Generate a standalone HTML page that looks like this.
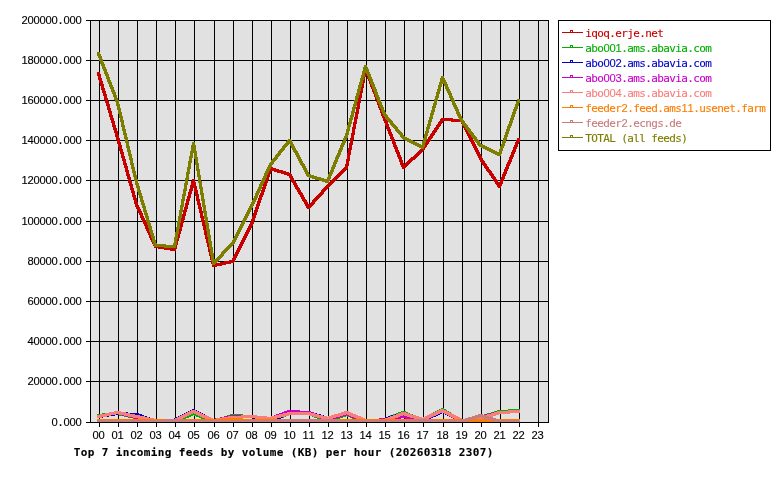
<!DOCTYPE html>
<html lang="en"><head><meta charset="utf-8">
<title>Top 7 incoming feeds by volume (KB) per hour</title>
<style>
html,body{margin:0;padding:0;background:#fff;}
body{width:780px;height:480px;overflow:hidden;}
svg{display:block;}
.s{font-family:"DejaVu Sans Mono","Liberation Mono",monospace;font-size:11px;}
.d{font-family:"Liberation Sans","DejaVu Sans",sans-serif;font-size:11.2px;}
.b{font-family:"DejaVu Sans Mono","Liberation Mono",monospace;font-size:11px;font-weight:bold;}
</style></head><body>
<svg width="780" height="480" viewBox="0 0 780 480">
<rect x="0" y="0" width="780" height="480" fill="#fff"/>
<g shape-rendering="crispEdges">
<rect x="90" y="20" width="459" height="403" fill="rgb(225,225,225)"/>
<path fill="#000" d="M99 20h1v407h-1zM118 20h1v407h-1zM137 20h1v407h-1zM156 20h1v407h-1zM175 20h1v407h-1zM194 20h1v407h-1zM214 20h1v407h-1zM233 20h1v407h-1zM252 20h1v407h-1zM271 20h1v407h-1zM290 20h1v407h-1zM309 20h1v407h-1zM328 20h1v407h-1zM347 20h1v407h-1zM366 20h1v407h-1zM385 20h1v407h-1zM404 20h1v407h-1zM423 20h1v407h-1zM443 20h1v407h-1zM462 20h1v407h-1zM481 20h1v407h-1zM500 20h1v407h-1zM519 20h1v407h-1zM538 20h1v407h-1zM86 20h463v1h-463zM86 60h463v1h-463zM86 100h463v1h-463zM86 140h463v1h-463zM86 180h463v1h-463zM86 221h463v1h-463zM86 261h463v1h-463zM86 301h463v1h-463zM86 341h463v1h-463zM86 381h463v1h-463zM86 422h463v1h-463z"/>
<path fill="rgb(200,0,0)" d="M364 67h3v1h-3zM364 68h3v1h-3zM364 69h4v1h-4zM363 70h5v1h-5zM363 71h6v1h-6zM97 72h3v1h-3zM363 72h6v1h-6zM97 73h3v1h-3zM363 73h6v1h-6zM97 74h4v1h-4zM363 74h7v1h-7zM97 75h4v1h-4zM362 75h8v1h-8zM98 76h3v1h-3zM362 76h4v1h-4zM367 76h3v1h-3zM98 77h3v1h-3zM362 77h3v1h-3zM367 77h4v1h-4zM98 78h4v1h-4zM362 78h3v1h-3zM367 78h4v1h-4zM98 79h4v1h-4zM362 79h3v1h-3zM368 79h4v1h-4zM99 80h3v1h-3zM362 80h3v1h-3zM368 80h4v1h-4zM99 81h4v1h-4zM361 81h4v1h-4zM369 81h3v1h-3zM99 82h4v1h-4zM361 82h4v1h-4zM369 82h4v1h-4zM100 83h3v1h-3zM361 83h3v1h-3zM369 83h4v1h-4zM100 84h4v1h-4zM361 84h3v1h-3zM370 84h3v1h-3zM100 85h4v1h-4zM361 85h3v1h-3zM370 85h4v1h-4zM101 86h3v1h-3zM360 86h4v1h-4zM370 86h4v1h-4zM101 87h3v1h-3zM360 87h4v1h-4zM371 87h4v1h-4zM101 88h4v1h-4zM360 88h3v1h-3zM371 88h4v1h-4zM101 89h4v1h-4zM360 89h3v1h-3zM372 89h3v1h-3zM102 90h3v1h-3zM360 90h3v1h-3zM372 90h4v1h-4zM102 91h4v1h-4zM359 91h4v1h-4zM372 91h4v1h-4zM102 92h4v1h-4zM359 92h4v1h-4zM373 92h4v1h-4zM103 93h3v1h-3zM359 93h3v1h-3zM373 93h4v1h-4zM103 94h4v1h-4zM359 94h3v1h-3zM374 94h3v1h-3zM103 95h4v1h-4zM359 95h3v1h-3zM374 95h4v1h-4zM104 96h3v1h-3zM358 96h4v1h-4zM374 96h4v1h-4zM104 97h3v1h-3zM358 97h4v1h-4zM375 97h3v1h-3zM104 98h4v1h-4zM358 98h3v1h-3zM375 98h4v1h-4zM104 99h4v1h-4zM358 99h3v1h-3zM375 99h4v1h-4zM105 100h3v1h-3zM358 100h3v1h-3zM376 100h4v1h-4zM105 101h4v1h-4zM357 101h4v1h-4zM376 101h4v1h-4zM105 102h4v1h-4zM357 102h4v1h-4zM377 102h3v1h-3zM106 103h3v1h-3zM357 103h3v1h-3zM377 103h4v1h-4zM106 104h4v1h-4zM357 104h3v1h-3zM377 104h4v1h-4zM106 105h4v1h-4zM357 105h3v1h-3zM378 105h3v1h-3zM107 106h3v1h-3zM357 106h3v1h-3zM378 106h4v1h-4zM107 107h3v1h-3zM356 107h4v1h-4zM378 107h4v1h-4zM107 108h4v1h-4zM356 108h4v1h-4zM379 108h4v1h-4zM107 109h4v1h-4zM356 109h3v1h-3zM379 109h4v1h-4zM108 110h3v1h-3zM356 110h3v1h-3zM380 110h3v1h-3zM108 111h4v1h-4zM356 111h3v1h-3zM380 111h4v1h-4zM108 112h4v1h-4zM355 112h4v1h-4zM380 112h4v1h-4zM109 113h3v1h-3zM355 113h4v1h-4zM381 113h3v1h-3zM109 114h3v1h-3zM355 114h3v1h-3zM381 114h4v1h-4zM109 115h4v1h-4zM355 115h3v1h-3zM381 115h4v1h-4zM109 116h4v1h-4zM355 116h3v1h-3zM382 116h4v1h-4zM110 117h3v1h-3zM354 117h4v1h-4zM382 117h4v1h-4zM110 118h4v1h-4zM354 118h4v1h-4zM383 118h3v1h-3zM441 118h12v1h-12zM110 119h4v1h-4zM354 119h3v1h-3zM383 119h4v1h-4zM440 119h23v1h-23zM111 120h3v1h-3zM354 120h3v1h-3zM383 120h4v1h-4zM440 120h24v1h-24zM111 121h4v1h-4zM354 121h3v1h-3zM384 121h4v1h-4zM439 121h4v1h-4zM451 121h13v1h-13zM111 122h4v1h-4zM353 122h4v1h-4zM384 122h4v1h-4zM438 122h5v1h-5zM461 122h4v1h-4zM112 123h3v1h-3zM353 123h4v1h-4zM385 123h3v1h-3zM438 123h4v1h-4zM461 123h4v1h-4zM112 124h3v1h-3zM353 124h3v1h-3zM385 124h4v1h-4zM437 124h4v1h-4zM462 124h4v1h-4zM112 125h4v1h-4zM353 125h3v1h-3zM385 125h4v1h-4zM436 125h5v1h-5zM462 125h4v1h-4zM112 126h4v1h-4zM353 126h3v1h-3zM386 126h3v1h-3zM436 126h4v1h-4zM463 126h4v1h-4zM113 127h3v1h-3zM352 127h4v1h-4zM386 127h4v1h-4zM435 127h4v1h-4zM463 127h4v1h-4zM113 128h4v1h-4zM352 128h4v1h-4zM386 128h4v1h-4zM434 128h5v1h-5zM464 128h4v1h-4zM113 129h4v1h-4zM352 129h3v1h-3zM387 129h4v1h-4zM434 129h4v1h-4zM464 129h4v1h-4zM114 130h3v1h-3zM352 130h3v1h-3zM387 130h4v1h-4zM433 130h4v1h-4zM465 130h4v1h-4zM114 131h4v1h-4zM352 131h3v1h-3zM388 131h3v1h-3zM432 131h5v1h-5zM465 131h4v1h-4zM114 132h4v1h-4zM352 132h3v1h-3zM388 132h4v1h-4zM432 132h4v1h-4zM466 132h4v1h-4zM115 133h3v1h-3zM351 133h4v1h-4zM388 133h4v1h-4zM431 133h4v1h-4zM466 133h4v1h-4zM115 134h3v1h-3zM351 134h4v1h-4zM389 134h4v1h-4zM430 134h5v1h-5zM467 134h4v1h-4zM115 135h4v1h-4zM351 135h3v1h-3zM389 135h4v1h-4zM430 135h4v1h-4zM467 135h4v1h-4zM115 136h4v1h-4zM351 136h3v1h-3zM390 136h3v1h-3zM429 136h4v1h-4zM468 136h4v1h-4zM116 137h3v1h-3zM351 137h3v1h-3zM390 137h4v1h-4zM428 137h5v1h-5zM468 137h4v1h-4zM116 138h4v1h-4zM350 138h4v1h-4zM390 138h4v1h-4zM428 138h4v1h-4zM469 138h4v1h-4zM517 138h3v1h-3zM116 139h4v1h-4zM350 139h4v1h-4zM391 139h4v1h-4zM427 139h4v1h-4zM469 139h4v1h-4zM517 139h3v1h-3zM117 140h3v1h-3zM350 140h3v1h-3zM391 140h4v1h-4zM426 140h5v1h-5zM470 140h4v1h-4zM516 140h4v1h-4zM117 141h3v1h-3zM350 141h3v1h-3zM392 141h3v1h-3zM426 141h4v1h-4zM470 141h4v1h-4zM516 141h4v1h-4zM117 142h4v1h-4zM350 142h3v1h-3zM392 142h4v1h-4zM425 142h4v1h-4zM471 142h4v1h-4zM515 142h4v1h-4zM117 143h4v1h-4zM349 143h4v1h-4zM392 143h4v1h-4zM424 143h5v1h-5zM471 143h4v1h-4zM515 143h4v1h-4zM118 144h3v1h-3zM349 144h4v1h-4zM393 144h3v1h-3zM424 144h4v1h-4zM472 144h4v1h-4zM515 144h3v1h-3zM118 145h4v1h-4zM349 145h3v1h-3zM393 145h4v1h-4zM423 145h4v1h-4zM472 145h4v1h-4zM514 145h4v1h-4zM118 146h4v1h-4zM349 146h3v1h-3zM393 146h4v1h-4zM422 146h5v1h-5zM473 146h4v1h-4zM514 146h4v1h-4zM119 147h3v1h-3zM349 147h3v1h-3zM394 147h4v1h-4zM422 147h4v1h-4zM473 147h4v1h-4zM513 147h4v1h-4zM119 148h3v1h-3zM348 148h4v1h-4zM394 148h4v1h-4zM421 148h4v1h-4zM474 148h4v1h-4zM513 148h4v1h-4zM119 149h4v1h-4zM348 149h4v1h-4zM395 149h3v1h-3zM420 149h5v1h-5zM474 149h4v1h-4zM513 149h3v1h-3zM119 150h4v1h-4zM348 150h3v1h-3zM395 150h4v1h-4zM419 150h5v1h-5zM475 150h4v1h-4zM512 150h4v1h-4zM120 151h3v1h-3zM348 151h3v1h-3zM395 151h4v1h-4zM418 151h5v1h-5zM475 151h4v1h-4zM512 151h4v1h-4zM120 152h4v1h-4zM348 152h3v1h-3zM396 152h4v1h-4zM417 152h5v1h-5zM476 152h4v1h-4zM511 152h4v1h-4zM120 153h4v1h-4zM347 153h4v1h-4zM396 153h4v1h-4zM416 153h5v1h-5zM476 153h4v1h-4zM511 153h4v1h-4zM121 154h3v1h-3zM347 154h4v1h-4zM397 154h3v1h-3zM415 154h5v1h-5zM477 154h4v1h-4zM511 154h3v1h-3zM121 155h3v1h-3zM347 155h3v1h-3zM397 155h4v1h-4zM414 155h5v1h-5zM477 155h4v1h-4zM510 155h4v1h-4zM121 156h4v1h-4zM347 156h3v1h-3zM397 156h4v1h-4zM413 156h5v1h-5zM478 156h4v1h-4zM510 156h4v1h-4zM121 157h4v1h-4zM347 157h3v1h-3zM398 157h4v1h-4zM411 157h6v1h-6zM478 157h4v1h-4zM509 157h4v1h-4zM122 158h3v1h-3zM347 158h3v1h-3zM398 158h4v1h-4zM410 158h6v1h-6zM479 158h4v1h-4zM509 158h4v1h-4zM122 159h4v1h-4zM346 159h4v1h-4zM399 159h3v1h-3zM409 159h6v1h-6zM479 159h4v1h-4zM509 159h3v1h-3zM122 160h4v1h-4zM346 160h4v1h-4zM399 160h4v1h-4zM408 160h5v1h-5zM480 160h4v1h-4zM508 160h4v1h-4zM123 161h3v1h-3zM346 161h3v1h-3zM399 161h4v1h-4zM407 161h5v1h-5zM480 161h5v1h-5zM508 161h4v1h-4zM123 162h3v1h-3zM346 162h3v1h-3zM400 162h3v1h-3zM406 162h5v1h-5zM481 162h4v1h-4zM507 162h4v1h-4zM123 163h4v1h-4zM346 163h3v1h-3zM400 163h4v1h-4zM405 163h5v1h-5zM482 163h4v1h-4zM507 163h4v1h-4zM123 164h4v1h-4zM345 164h4v1h-4zM400 164h9v1h-9zM482 164h5v1h-5zM506 164h4v1h-4zM124 165h3v1h-3zM345 165h4v1h-4zM401 165h7v1h-7zM483 165h4v1h-4zM506 165h4v1h-4zM124 166h4v1h-4zM345 166h3v1h-3zM401 166h6v1h-6zM484 166h4v1h-4zM506 166h3v1h-3zM124 167h4v1h-4zM269 167h4v1h-4zM344 167h4v1h-4zM402 167h4v1h-4zM484 167h5v1h-5zM505 167h4v1h-4zM125 168h3v1h-3zM269 168h7v1h-7zM343 168h5v1h-5zM402 168h3v1h-3zM485 168h4v1h-4zM505 168h4v1h-4zM125 169h3v1h-3zM268 169h11v1h-11zM342 169h5v1h-5zM486 169h4v1h-4zM504 169h4v1h-4zM125 170h4v1h-4zM268 170h15v1h-15zM341 170h5v1h-5zM486 170h5v1h-5zM504 170h4v1h-4zM125 171h4v1h-4zM268 171h3v1h-3zM274 171h12v1h-12zM340 171h5v1h-5zM487 171h5v1h-5zM504 171h3v1h-3zM126 172h3v1h-3zM267 172h4v1h-4zM277 172h12v1h-12zM339 172h5v1h-5zM488 172h4v1h-4zM503 172h4v1h-4zM126 173h3v1h-3zM267 173h4v1h-4zM281 173h10v1h-10zM338 173h5v1h-5zM489 173h4v1h-4zM503 173h4v1h-4zM126 174h4v1h-4zM267 174h3v1h-3zM284 174h8v1h-8zM337 174h5v1h-5zM489 174h5v1h-5zM502 174h4v1h-4zM126 175h4v1h-4zM266 175h4v1h-4zM287 175h5v1h-5zM336 175h5v1h-5zM490 175h4v1h-4zM502 175h4v1h-4zM127 176h3v1h-3zM266 176h4v1h-4zM289 176h4v1h-4zM335 176h5v1h-5zM491 176h4v1h-4zM502 176h3v1h-3zM127 177h4v1h-4zM266 177h3v1h-3zM289 177h4v1h-4zM334 177h5v1h-5zM491 177h5v1h-5zM501 177h4v1h-4zM127 178h4v1h-4zM265 178h4v1h-4zM290 178h4v1h-4zM333 178h5v1h-5zM492 178h4v1h-4zM501 178h4v1h-4zM128 179h3v1h-3zM192 179h3v1h-3zM265 179h4v1h-4zM290 179h4v1h-4zM332 179h5v1h-5zM493 179h4v1h-4zM500 179h4v1h-4zM128 180h3v1h-3zM192 180h3v1h-3zM265 180h3v1h-3zM291 180h4v1h-4zM331 180h5v1h-5zM493 180h5v1h-5zM500 180h4v1h-4zM128 181h4v1h-4zM191 181h4v1h-4zM264 181h4v1h-4zM291 181h5v1h-5zM330 181h5v1h-5zM494 181h4v1h-4zM500 181h3v1h-3zM128 182h4v1h-4zM191 182h5v1h-5zM264 182h4v1h-4zM292 182h4v1h-4zM329 182h5v1h-5zM495 182h8v1h-8zM129 183h3v1h-3zM191 183h5v1h-5zM264 183h3v1h-3zM293 183h4v1h-4zM328 183h5v1h-5zM495 183h8v1h-8zM129 184h4v1h-4zM191 184h5v1h-5zM263 184h4v1h-4zM293 184h4v1h-4zM327 184h5v1h-5zM496 184h6v1h-6zM129 185h4v1h-4zM190 185h6v1h-6zM263 185h4v1h-4zM294 185h4v1h-4zM326 185h5v1h-5zM497 185h5v1h-5zM130 186h3v1h-3zM190 186h7v1h-7zM263 186h3v1h-3zM294 186h4v1h-4zM325 186h5v1h-5zM497 186h4v1h-4zM130 187h3v1h-3zM190 187h7v1h-7zM262 187h4v1h-4zM295 187h4v1h-4zM324 187h5v1h-5zM498 187h3v1h-3zM130 188h4v1h-4zM190 188h3v1h-3zM194 188h3v1h-3zM262 188h4v1h-4zM295 188h5v1h-5zM323 188h5v1h-5zM130 189h4v1h-4zM189 189h4v1h-4zM194 189h3v1h-3zM262 189h3v1h-3zM296 189h4v1h-4zM322 189h5v1h-5zM131 190h3v1h-3zM189 190h4v1h-4zM194 190h4v1h-4zM261 190h4v1h-4zM297 190h4v1h-4zM321 190h5v1h-5zM131 191h4v1h-4zM189 191h3v1h-3zM194 191h4v1h-4zM261 191h4v1h-4zM297 191h4v1h-4zM321 191h4v1h-4zM131 192h4v1h-4zM188 192h4v1h-4zM195 192h3v1h-3zM261 192h3v1h-3zM298 192h4v1h-4zM320 192h4v1h-4zM132 193h3v1h-3zM188 193h4v1h-4zM195 193h3v1h-3zM260 193h4v1h-4zM298 193h5v1h-5zM319 193h5v1h-5zM132 194h3v1h-3zM188 194h3v1h-3zM195 194h4v1h-4zM260 194h4v1h-4zM299 194h4v1h-4zM318 194h5v1h-5zM132 195h4v1h-4zM188 195h3v1h-3zM195 195h4v1h-4zM259 195h4v1h-4zM300 195h4v1h-4zM317 195h5v1h-5zM132 196h4v1h-4zM187 196h4v1h-4zM196 196h3v1h-3zM259 196h4v1h-4zM300 196h4v1h-4zM316 196h5v1h-5zM133 197h3v1h-3zM187 197h4v1h-4zM196 197h3v1h-3zM259 197h3v1h-3zM301 197h4v1h-4zM315 197h5v1h-5zM133 198h4v1h-4zM187 198h3v1h-3zM196 198h3v1h-3zM258 198h4v1h-4zM301 198h4v1h-4zM314 198h5v1h-5zM133 199h4v1h-4zM186 199h4v1h-4zM196 199h4v1h-4zM258 199h4v1h-4zM302 199h4v1h-4zM313 199h5v1h-5zM134 200h3v1h-3zM186 200h4v1h-4zM196 200h4v1h-4zM258 200h3v1h-3zM302 200h5v1h-5zM312 200h5v1h-5zM134 201h3v1h-3zM186 201h3v1h-3zM197 201h3v1h-3zM257 201h4v1h-4zM303 201h4v1h-4zM312 201h4v1h-4zM134 202h4v1h-4zM186 202h3v1h-3zM197 202h3v1h-3zM257 202h4v1h-4zM304 202h4v1h-4zM311 202h4v1h-4zM134 203h4v1h-4zM185 203h4v1h-4zM197 203h4v1h-4zM257 203h3v1h-3zM304 203h4v1h-4zM310 203h5v1h-5zM135 204h3v1h-3zM185 204h4v1h-4zM197 204h4v1h-4zM256 204h4v1h-4zM305 204h9v1h-9zM135 205h4v1h-4zM185 205h3v1h-3zM198 205h3v1h-3zM256 205h4v1h-4zM305 205h8v1h-8zM135 206h4v1h-4zM185 206h3v1h-3zM198 206h3v1h-3zM256 206h3v1h-3zM306 206h6v1h-6zM136 207h4v1h-4zM184 207h4v1h-4zM198 207h4v1h-4zM255 207h4v1h-4zM306 207h5v1h-5zM136 208h4v1h-4zM184 208h4v1h-4zM198 208h4v1h-4zM255 208h4v1h-4zM307 208h3v1h-3zM137 209h4v1h-4zM184 209h3v1h-3zM199 209h3v1h-3zM255 209h3v1h-3zM137 210h4v1h-4zM183 210h4v1h-4zM199 210h3v1h-3zM254 210h4v1h-4zM138 211h4v1h-4zM183 211h4v1h-4zM199 211h4v1h-4zM254 211h4v1h-4zM138 212h4v1h-4zM183 212h3v1h-3zM199 212h4v1h-4zM254 212h3v1h-3zM139 213h4v1h-4zM183 213h3v1h-3zM200 213h3v1h-3zM253 213h4v1h-4zM139 214h4v1h-4zM182 214h4v1h-4zM200 214h3v1h-3zM253 214h4v1h-4zM140 215h3v1h-3zM182 215h4v1h-4zM200 215h3v1h-3zM253 215h3v1h-3zM140 216h4v1h-4zM182 216h3v1h-3zM200 216h4v1h-4zM252 216h4v1h-4zM140 217h4v1h-4zM182 217h3v1h-3zM200 217h4v1h-4zM252 217h4v1h-4zM141 218h4v1h-4zM181 218h4v1h-4zM201 218h3v1h-3zM252 218h3v1h-3zM141 219h4v1h-4zM181 219h4v1h-4zM201 219h3v1h-3zM251 219h4v1h-4zM142 220h4v1h-4zM181 220h3v1h-3zM201 220h4v1h-4zM251 220h4v1h-4zM142 221h4v1h-4zM180 221h4v1h-4zM201 221h4v1h-4zM251 221h3v1h-3zM143 222h4v1h-4zM180 222h4v1h-4zM202 222h3v1h-3zM250 222h4v1h-4zM143 223h4v1h-4zM180 223h3v1h-3zM202 223h3v1h-3zM250 223h4v1h-4zM144 224h4v1h-4zM180 224h3v1h-3zM202 224h4v1h-4zM249 224h4v1h-4zM144 225h4v1h-4zM179 225h4v1h-4zM202 225h4v1h-4zM249 225h4v1h-4zM145 226h3v1h-3zM179 226h4v1h-4zM203 226h3v1h-3zM248 226h4v1h-4zM145 227h4v1h-4zM179 227h3v1h-3zM203 227h3v1h-3zM248 227h4v1h-4zM145 228h4v1h-4zM179 228h3v1h-3zM203 228h4v1h-4zM247 228h4v1h-4zM146 229h4v1h-4zM178 229h4v1h-4zM203 229h4v1h-4zM247 229h4v1h-4zM146 230h4v1h-4zM178 230h4v1h-4zM204 230h3v1h-3zM246 230h4v1h-4zM147 231h4v1h-4zM178 231h3v1h-3zM204 231h3v1h-3zM246 231h4v1h-4zM147 232h4v1h-4zM177 232h4v1h-4zM204 232h3v1h-3zM245 232h4v1h-4zM148 233h4v1h-4zM177 233h4v1h-4zM204 233h4v1h-4zM245 233h4v1h-4zM148 234h4v1h-4zM177 234h3v1h-3zM204 234h4v1h-4zM244 234h4v1h-4zM149 235h3v1h-3zM177 235h3v1h-3zM205 235h3v1h-3zM244 235h4v1h-4zM149 236h4v1h-4zM176 236h4v1h-4zM205 236h3v1h-3zM243 236h4v1h-4zM149 237h4v1h-4zM176 237h4v1h-4zM205 237h4v1h-4zM243 237h4v1h-4zM150 238h4v1h-4zM176 238h3v1h-3zM205 238h4v1h-4zM242 238h4v1h-4zM150 239h4v1h-4zM175 239h4v1h-4zM206 239h3v1h-3zM242 239h4v1h-4zM151 240h4v1h-4zM175 240h4v1h-4zM206 240h3v1h-3zM241 240h4v1h-4zM151 241h4v1h-4zM175 241h3v1h-3zM206 241h4v1h-4zM241 241h4v1h-4zM152 242h4v1h-4zM175 242h3v1h-3zM206 242h4v1h-4zM240 242h4v1h-4zM152 243h4v1h-4zM174 243h4v1h-4zM207 243h3v1h-3zM240 243h4v1h-4zM153 244h4v1h-4zM174 244h4v1h-4zM207 244h3v1h-3zM239 244h4v1h-4zM153 245h7v1h-7zM174 245h3v1h-3zM207 245h4v1h-4zM239 245h4v1h-4zM154 246h12v1h-12zM174 246h3v1h-3zM207 246h4v1h-4zM238 246h4v1h-4zM154 247h18v1h-18zM173 247h4v1h-4zM208 247h3v1h-3zM238 247h4v1h-4zM158 248h19v1h-19zM208 248h3v1h-3zM237 248h4v1h-4zM164 249h12v1h-12zM208 249h3v1h-3zM237 249h4v1h-4zM170 250h6v1h-6zM208 250h4v1h-4zM236 250h4v1h-4zM208 251h4v1h-4zM236 251h4v1h-4zM209 252h3v1h-3zM235 252h4v1h-4zM209 253h3v1h-3zM235 253h4v1h-4zM209 254h4v1h-4zM234 254h4v1h-4zM209 255h4v1h-4zM234 255h4v1h-4zM210 256h3v1h-3zM233 256h4v1h-4zM210 257h3v1h-3zM233 257h4v1h-4zM210 258h4v1h-4zM232 258h4v1h-4zM210 259h4v1h-4zM232 259h4v1h-4zM211 260h3v1h-3zM229 260h6v1h-6zM211 261h3v1h-3zM224 261h11v1h-11zM211 262h4v1h-4zM220 262h14v1h-14zM211 263h20v1h-20zM212 264h14v1h-14zM212 265h10v1h-10zM212 266h5v1h-5z"/>
<path fill="rgb(0,175,0)" d="M441 408h3v1h-3zM439 409h7v1h-7zM508 409h12v1h-12zM437 410h10v1h-10zM497 410h23v1h-23zM401 411h5v1h-5zM435 411h14v1h-14zM494 411h26v1h-26zM112 412h9v1h-9zM191 412h5v1h-5zM287 412h24v1h-24zM398 412h10v1h-10zM433 412h8v1h-8zM444 412h7v1h-7zM491 412h19v1h-19zM102 413h24v1h-24zM189 413h9v1h-9zM284 413h30v1h-30zM344 413h5v1h-5zM396 413h14v1h-14zM431 413h8v1h-8zM445 413h7v1h-7zM487 413h12v1h-12zM97 414h33v1h-33zM187 414h14v1h-14zM230 414h13v1h-13zM282 414h34v1h-34zM341 414h11v1h-11zM393 414h10v1h-10zM404 414h9v1h-9zM430 414h7v1h-7zM447 414h7v1h-7zM484 414h12v1h-12zM97 415h17v1h-17zM119 415h16v1h-16zM184 415h9v1h-9zM194 415h9v1h-9zM227 415h28v1h-28zM279 415h10v1h-10zM309 415h10v1h-10zM338 415h16v1h-16zM390 415h10v1h-10zM406 415h9v1h-9zM428 415h7v1h-7zM449 415h6v1h-6zM481 415h12v1h-12zM97 416h7v1h-7zM124 416h16v1h-16zM182 416h9v1h-9zM196 416h10v1h-10zM224 416h36v1h-36zM276 416h10v1h-10zM312 416h10v1h-10zM334 416h12v1h-12zM347 416h10v1h-10zM388 416h10v1h-10zM408 416h10v1h-10zM426 416h7v1h-7zM450 416h7v1h-7zM477 416h12v1h-12zM128 417h17v1h-17zM179 417h10v1h-10zM199 417h9v1h-9zM220 417h12v1h-12zM241 417h23v1h-23zM274 417h10v1h-10zM314 417h10v1h-10zM331 417h12v1h-12zM350 417h10v1h-10zM385 417h10v1h-10zM411 417h9v1h-9zM424 417h8v1h-8zM452 417h7v1h-7zM472 417h14v1h-14zM133 418h16v1h-16zM177 418h9v1h-9zM201 418h10v1h-10zM217 418h12v1h-12zM253 418h16v1h-16zM271 418h10v1h-10zM317 418h10v1h-10zM328 418h12v1h-12zM352 418h10v1h-10zM379 418h13v1h-13zM413 418h17v1h-17zM453 418h7v1h-7zM468 418h15v1h-15zM138 419h16v1h-16zM175 419h9v1h-9zM204 419h9v1h-9zM214 419h12v1h-12zM258 419h20v1h-20zM320 419h16v1h-16zM355 419h10v1h-10zM369 419h21v1h-21zM416 419h12v1h-12zM455 419h7v1h-7zM463 419h16v1h-16zM143 420h38v1h-38zM206 420h16v1h-16zM262 420h14v1h-14zM322 420h11v1h-11zM358 420h29v1h-29zM418 420h8v1h-8zM457 420h17v1h-17zM147 421h32v1h-32zM209 421h10v1h-10zM267 421h6v1h-6zM325 421h5v1h-5zM360 421h21v1h-21zM420 421h4v1h-4zM458 421h12v1h-12zM152 422h25v1h-25zM211 422h5v1h-5zM363 422h8v1h-8zM460 422h5v1h-5z"/>
<path fill="rgb(0,0,200)" d="M192 409h3v1h-3zM190 410h7v1h-7zM440 410h5v1h-5zM508 410h12v1h-12zM188 411h11v1h-11zM287 411h24v1h-24zM438 411h9v1h-9zM497 411h23v1h-23zM113 412h15v1h-15zM186 412h15v1h-15zM285 412h29v1h-29zM344 412h5v1h-5zM401 412h5v1h-5zM436 412h13v1h-13zM494 412h26v1h-26zM107 413h32v1h-32zM184 413h8v1h-8zM195 413h8v1h-8zM283 413h34v1h-34zM340 413h11v1h-11zM398 413h11v1h-11zM434 413h8v1h-8zM443 413h8v1h-8zM491 413h19v1h-19zM101 414h41v1h-41zM182 414h8v1h-8zM197 414h8v1h-8zM281 414h8v1h-8zM309 414h12v1h-12zM336 414h17v1h-17zM395 414h16v1h-16zM431 414h9v1h-9zM445 414h8v1h-8zM487 414h12v1h-12zM97 415h18v1h-18zM126 415h18v1h-18zM180 415h8v1h-8zM199 415h8v1h-8zM229 415h25v1h-25zM279 415h8v1h-8zM312 415h12v1h-12zM332 415h14v1h-14zM347 415h9v1h-9zM391 415h12v1h-12zM404 415h10v1h-10zM429 415h9v1h-9zM447 415h8v1h-8zM484 415h12v1h-12zM97 416h12v1h-12zM137 416h10v1h-10zM178 416h8v1h-8zM201 416h8v1h-8zM224 416h34v1h-34zM277 416h8v1h-8zM315 416h12v1h-12zM328 416h14v1h-14zM349 416h9v1h-9zM388 416h12v1h-12zM407 416h10v1h-10zM427 416h9v1h-9zM449 416h8v1h-8zM481 416h12v1h-12zM97 417h6v1h-6zM140 417h10v1h-10zM176 417h8v1h-8zM203 417h8v1h-8zM220 417h42v1h-42zM275 417h8v1h-8zM319 417h19v1h-19zM351 417h10v1h-10zM385 417h12v1h-12zM409 417h10v1h-10zM425 417h8v1h-8zM451 417h8v1h-8zM475 417h14v1h-14zM142 418h10v1h-10zM174 418h8v1h-8zM205 418h8v1h-8zM215 418h16v1h-16zM252 418h14v1h-14zM273 418h8v1h-8zM322 418h12v1h-12zM354 418h9v1h-9zM379 418h14v1h-14zM412 418h10v1h-10zM423 418h8v1h-8zM453 418h8v1h-8zM465 418h21v1h-21zM145 419h10v1h-10zM164 419h16v1h-16zM207 419h19v1h-19zM256 419h14v1h-14zM271 419h8v1h-8zM325 419h5v1h-5zM356 419h9v1h-9zM369 419h21v1h-21zM415 419h14v1h-14zM455 419h28v1h-28zM148 420h30v1h-30zM209 420h13v1h-13zM260 420h17v1h-17zM359 420h28v1h-28zM417 420h10v1h-10zM457 420h20v1h-20zM150 421h26v1h-26zM211 421h6v1h-6zM264 421h11v1h-11zM361 421h20v1h-20zM420 421h5v1h-5zM459 421h8v1h-8zM153 422h13v1h-13zM268 422h5v1h-5zM363 422h8v1h-8z"/>
<path fill="rgb(200,0,200)" d="M440 409h4v1h-4zM287 410h13v1h-13zM438 410h8v1h-8zM508 410h12v1h-12zM114 411h6v1h-6zM284 411h27v1h-27zM436 411h12v1h-12zM497 411h23v1h-23zM109 412h15v1h-15zM282 412h32v1h-32zM344 412h5v1h-5zM434 412h16v1h-16zM493 412h27v1h-27zM105 413h23v1h-23zM279 413h10v1h-10zM298 413h18v1h-18zM341 413h10v1h-10zM432 413h8v1h-8zM444 413h7v1h-7zM489 413h21v1h-21zM100 414h16v1h-16zM118 414h14v1h-14zM276 414h10v1h-10zM309 414h10v1h-10zM338 414h15v1h-15zM430 414h8v1h-8zM446 414h7v1h-7zM485 414h14v1h-14zM97 415h14v1h-14zM122 415h14v1h-14zM229 415h28v1h-28zM274 415h10v1h-10zM312 415h10v1h-10zM334 415h12v1h-12zM347 415h9v1h-9zM399 415h8v1h-8zM428 415h8v1h-8zM448 415h7v1h-7zM481 415h14v1h-14zM97 416h10v1h-10zM126 416h15v1h-15zM224 416h43v1h-43zM271 416h10v1h-10zM314 416h10v1h-10zM331 416h12v1h-12zM349 416h9v1h-9zM393 416h19v1h-19zM426 416h8v1h-8zM449 416h7v1h-7zM477 416h14v1h-14zM97 417h5v1h-5zM130 417h17v1h-17zM220 417h58v1h-58zM317 417h10v1h-10zM328 417h12v1h-12zM351 417h10v1h-10zM387 417h29v1h-29zM424 417h8v1h-8zM451 417h7v1h-7zM472 417h15v1h-15zM134 418h19v1h-19zM215 418h16v1h-16zM255 418h21v1h-21zM320 418h16v1h-16zM354 418h9v1h-9zM379 418h22v1h-22zM405 418h16v1h-16zM422 418h8v1h-8zM453 418h7v1h-7zM468 418h15v1h-15zM139 419h27v1h-27zM202 419h24v1h-24zM265 419h8v1h-8zM322 419h11v1h-11zM356 419h9v1h-9zM369 419h26v1h-26zM410 419h18v1h-18zM454 419h8v1h-8zM463 419h16v1h-16zM145 420h77v1h-77zM325 420h5v1h-5zM359 420h30v1h-30zM414 420h12v1h-12zM456 420h18v1h-18zM151 421h66v1h-66zM361 421h20v1h-20zM419 421h5v1h-5zM458 421h12v1h-12zM164 422h40v1h-40zM363 422h8v1h-8zM460 422h5v1h-5z"/>
<path fill="rgb(250,125,125)" d="M440 409h4v1h-4zM191 410h5v1h-5zM438 410h8v1h-8zM508 410h12v1h-12zM114 411h7v1h-7zM189 411h9v1h-9zM344 411h5v1h-5zM436 411h12v1h-12zM497 411h23v1h-23zM109 412h17v1h-17zM187 412h13v1h-13zM287 412h24v1h-24zM341 412h10v1h-10zM401 412h5v1h-5zM434 412h16v1h-16zM494 412h26v1h-26zM105 413h25v1h-25zM185 413h8v1h-8zM194 413h8v1h-8zM283 413h32v1h-32zM338 413h15v1h-15zM398 413h11v1h-11zM431 413h9v1h-9zM444 413h8v1h-8zM491 413h19v1h-19zM100 414h16v1h-16zM119 414h16v1h-16zM183 414h8v1h-8zM196 414h8v1h-8zM279 414h40v1h-40zM334 414h12v1h-12zM347 414h9v1h-9zM396 414h16v1h-16zM429 414h9v1h-9zM446 414h8v1h-8zM487 414h12v1h-12zM97 415h14v1h-14zM124 415h16v1h-16zM181 415h8v1h-8zM198 415h9v1h-9zM241 415h16v1h-16zM275 415h14v1h-14zM309 415h14v1h-14zM331 415h12v1h-12zM349 415h9v1h-9zM393 415h10v1h-10zM404 415h12v1h-12zM427 415h9v1h-9zM448 415h8v1h-8zM484 415h12v1h-12zM97 416h10v1h-10zM128 416h17v1h-17zM179 416h8v1h-8zM200 416h9v1h-9zM228 416h39v1h-39zM271 416h14v1h-14zM313 416h14v1h-14zM328 416h12v1h-12zM351 416h10v1h-10zM390 416h10v1h-10zM407 416h12v1h-12zM425 416h8v1h-8zM450 416h8v1h-8zM481 416h12v1h-12zM97 417h5v1h-5zM133 417h16v1h-16zM177 417h8v1h-8zM202 417h9v1h-9zM222 417h59v1h-59zM317 417h19v1h-19zM354 417h9v1h-9zM388 417h10v1h-10zM410 417h12v1h-12zM423 417h8v1h-8zM452 417h8v1h-8zM475 417h14v1h-14zM138 418h16v1h-16zM175 418h8v1h-8zM205 418h8v1h-8zM216 418h27v1h-27zM255 418h22v1h-22zM321 418h12v1h-12zM356 418h9v1h-9zM385 418h10v1h-10zM414 418h15v1h-15zM454 418h8v1h-8zM465 418h21v1h-21zM143 419h38v1h-38zM207 419h23v1h-23zM265 419h8v1h-8zM325 419h5v1h-5zM359 419h33v1h-33zM417 419h10v1h-10zM456 419h27v1h-27zM147 420h32v1h-32zM209 420h15v1h-15zM361 420h29v1h-29zM420 420h5v1h-5zM458 420h19v1h-19zM152 421h25v1h-25zM211 421h7v1h-7zM363 421h24v1h-24zM460 421h7v1h-7z"/>
<path fill="rgb(250,125,0)" d="M222 418h21v1h-21zM97 419h423v1h-423zM97 420h423v1h-423zM97 421h127v1h-127zM241 421h279v1h-279z"/>
<path fill="rgb(200,125,125)" d="M478 414h5v1h-5zM475 415h11v1h-11zM472 416h17v1h-17zM468 417h12v1h-12zM481 417h12v1h-12zM465 418h12v1h-12zM484 418h12v1h-12zM164 419h21v1h-21zM279 419h59v1h-59zM412 419h21v1h-21zM462 419h12v1h-12zM487 419h12v1h-12zM97 420h373v1h-373zM491 420h29v1h-29zM97 421h370v1h-370zM494 421h26v1h-26zM97 422h69v1h-69zM183 422h98v1h-98zM336 422h78v1h-78zM431 422h33v1h-33zM497 422h23v1h-23z"/>
<path fill="rgb(125,125,0)" d="M97 52h3v1h-3zM97 53h3v1h-3zM97 54h4v1h-4zM97 55h4v1h-4zM98 56h4v1h-4zM98 57h4v1h-4zM99 58h3v1h-3zM99 59h4v1h-4zM99 60h4v1h-4zM100 61h3v1h-3zM100 62h4v1h-4zM100 63h4v1h-4zM101 64h4v1h-4zM101 65h4v1h-4zM364 65h3v1h-3zM102 66h3v1h-3zM364 66h3v1h-3zM102 67h4v1h-4zM363 67h5v1h-5zM102 68h4v1h-4zM363 68h5v1h-5zM103 69h4v1h-4zM363 69h6v1h-6zM103 70h4v1h-4zM363 70h6v1h-6zM104 71h3v1h-3zM362 71h7v1h-7zM104 72h4v1h-4zM362 72h8v1h-8zM104 73h4v1h-4zM362 73h3v1h-3zM366 73h4v1h-4zM105 74h4v1h-4zM362 74h3v1h-3zM367 74h4v1h-4zM105 75h4v1h-4zM361 75h4v1h-4zM367 75h4v1h-4zM106 76h3v1h-3zM361 76h4v1h-4zM368 76h3v1h-3zM441 76h3v1h-3zM106 77h4v1h-4zM361 77h3v1h-3zM368 77h4v1h-4zM441 77h3v1h-3zM106 78h4v1h-4zM360 78h4v1h-4zM368 78h4v1h-4zM440 78h5v1h-5zM107 79h3v1h-3zM360 79h4v1h-4zM369 79h4v1h-4zM440 79h5v1h-5zM107 80h4v1h-4zM360 80h3v1h-3zM369 80h4v1h-4zM440 80h6v1h-6zM107 81h4v1h-4zM360 81h3v1h-3zM370 81h3v1h-3zM440 81h6v1h-6zM108 82h4v1h-4zM359 82h4v1h-4zM370 82h4v1h-4zM439 82h8v1h-8zM108 83h4v1h-4zM359 83h4v1h-4zM370 83h4v1h-4zM439 83h8v1h-8zM109 84h3v1h-3zM359 84h3v1h-3zM371 84h4v1h-4zM439 84h3v1h-3zM444 84h4v1h-4zM109 85h4v1h-4zM358 85h4v1h-4zM371 85h4v1h-4zM438 85h4v1h-4zM444 85h4v1h-4zM109 86h4v1h-4zM358 86h4v1h-4zM372 86h3v1h-3zM438 86h4v1h-4zM445 86h3v1h-3zM110 87h4v1h-4zM358 87h3v1h-3zM372 87h4v1h-4zM438 87h3v1h-3zM445 87h4v1h-4zM110 88h4v1h-4zM358 88h3v1h-3zM372 88h4v1h-4zM438 88h3v1h-3zM445 88h4v1h-4zM111 89h3v1h-3zM357 89h4v1h-4zM373 89h4v1h-4zM437 89h4v1h-4zM446 89h4v1h-4zM111 90h4v1h-4zM357 90h4v1h-4zM373 90h4v1h-4zM437 90h4v1h-4zM446 90h4v1h-4zM111 91h4v1h-4zM357 91h3v1h-3zM374 91h3v1h-3zM437 91h3v1h-3zM447 91h4v1h-4zM112 92h4v1h-4zM357 92h3v1h-3zM374 92h4v1h-4zM436 92h4v1h-4zM447 92h4v1h-4zM112 93h4v1h-4zM356 93h4v1h-4zM374 93h4v1h-4zM436 93h4v1h-4zM448 93h4v1h-4zM113 94h3v1h-3zM356 94h4v1h-4zM375 94h3v1h-3zM436 94h3v1h-3zM448 94h4v1h-4zM113 95h4v1h-4zM356 95h3v1h-3zM375 95h4v1h-4zM436 95h3v1h-3zM449 95h3v1h-3zM113 96h4v1h-4zM355 96h4v1h-4zM375 96h4v1h-4zM435 96h4v1h-4zM449 96h4v1h-4zM114 97h3v1h-3zM355 97h4v1h-4zM376 97h4v1h-4zM435 97h4v1h-4zM449 97h4v1h-4zM114 98h4v1h-4zM355 98h3v1h-3zM376 98h4v1h-4zM435 98h3v1h-3zM450 98h4v1h-4zM114 99h4v1h-4zM355 99h3v1h-3zM377 99h3v1h-3zM434 99h4v1h-4zM450 99h4v1h-4zM517 99h3v1h-3zM115 100h4v1h-4zM354 100h4v1h-4zM377 100h4v1h-4zM434 100h4v1h-4zM451 100h4v1h-4zM517 100h3v1h-3zM115 101h4v1h-4zM354 101h4v1h-4zM377 101h4v1h-4zM434 101h3v1h-3zM451 101h4v1h-4zM516 101h4v1h-4zM116 102h3v1h-3zM354 102h3v1h-3zM378 102h4v1h-4zM434 102h3v1h-3zM452 102h3v1h-3zM516 102h4v1h-4zM116 103h3v1h-3zM354 103h3v1h-3zM378 103h4v1h-4zM433 103h4v1h-4zM452 103h4v1h-4zM516 103h3v1h-3zM116 104h4v1h-4zM353 104h4v1h-4zM379 104h3v1h-3zM433 104h4v1h-4zM452 104h4v1h-4zM515 104h4v1h-4zM116 105h4v1h-4zM353 105h4v1h-4zM379 105h4v1h-4zM433 105h3v1h-3zM453 105h4v1h-4zM515 105h4v1h-4zM117 106h3v1h-3zM353 106h3v1h-3zM379 106h4v1h-4zM432 106h4v1h-4zM453 106h4v1h-4zM515 106h3v1h-3zM117 107h3v1h-3zM352 107h4v1h-4zM380 107h4v1h-4zM432 107h4v1h-4zM454 107h4v1h-4zM514 107h4v1h-4zM117 108h4v1h-4zM352 108h4v1h-4zM380 108h4v1h-4zM432 108h3v1h-3zM454 108h4v1h-4zM514 108h4v1h-4zM117 109h4v1h-4zM352 109h3v1h-3zM381 109h3v1h-3zM432 109h3v1h-3zM455 109h4v1h-4zM513 109h4v1h-4zM118 110h3v1h-3zM352 110h3v1h-3zM381 110h4v1h-4zM431 110h4v1h-4zM455 110h4v1h-4zM513 110h4v1h-4zM118 111h3v1h-3zM351 111h4v1h-4zM381 111h4v1h-4zM431 111h4v1h-4zM456 111h3v1h-3zM513 111h3v1h-3zM118 112h4v1h-4zM351 112h4v1h-4zM382 112h4v1h-4zM431 112h3v1h-3zM456 112h4v1h-4zM512 112h4v1h-4zM118 113h4v1h-4zM351 113h3v1h-3zM382 113h4v1h-4zM430 113h4v1h-4zM456 113h4v1h-4zM512 113h4v1h-4zM119 114h3v1h-3zM351 114h3v1h-3zM383 114h4v1h-4zM430 114h4v1h-4zM457 114h4v1h-4zM512 114h3v1h-3zM119 115h3v1h-3zM350 115h4v1h-4zM383 115h5v1h-5zM430 115h3v1h-3zM457 115h4v1h-4zM511 115h4v1h-4zM119 116h4v1h-4zM350 116h4v1h-4zM384 116h4v1h-4zM430 116h3v1h-3zM458 116h4v1h-4zM511 116h4v1h-4zM119 117h4v1h-4zM350 117h3v1h-3zM385 117h4v1h-4zM429 117h4v1h-4zM458 117h4v1h-4zM511 117h3v1h-3zM120 118h3v1h-3zM349 118h4v1h-4zM385 118h5v1h-5zM429 118h4v1h-4zM459 118h4v1h-4zM510 118h4v1h-4zM120 119h3v1h-3zM349 119h4v1h-4zM386 119h5v1h-5zM429 119h3v1h-3zM459 119h4v1h-4zM510 119h4v1h-4zM120 120h4v1h-4zM349 120h3v1h-3zM387 120h5v1h-5zM428 120h4v1h-4zM460 120h4v1h-4zM510 120h3v1h-3zM120 121h4v1h-4zM349 121h3v1h-3zM388 121h5v1h-5zM428 121h4v1h-4zM460 121h5v1h-5zM509 121h4v1h-4zM121 122h3v1h-3zM348 122h4v1h-4zM389 122h4v1h-4zM428 122h3v1h-3zM461 122h4v1h-4zM509 122h4v1h-4zM121 123h3v1h-3zM348 123h4v1h-4zM390 123h4v1h-4zM428 123h3v1h-3zM462 123h4v1h-4zM509 123h3v1h-3zM121 124h3v1h-3zM348 124h3v1h-3zM390 124h5v1h-5zM427 124h4v1h-4zM462 124h5v1h-5zM508 124h4v1h-4zM121 125h4v1h-4zM347 125h4v1h-4zM391 125h5v1h-5zM427 125h4v1h-4zM463 125h5v1h-5zM508 125h4v1h-4zM121 126h4v1h-4zM347 126h4v1h-4zM392 126h5v1h-5zM427 126h3v1h-3zM464 126h4v1h-4zM507 126h4v1h-4zM122 127h3v1h-3zM347 127h3v1h-3zM393 127h5v1h-5zM426 127h4v1h-4zM465 127h4v1h-4zM507 127h4v1h-4zM122 128h3v1h-3zM347 128h3v1h-3zM394 128h4v1h-4zM426 128h4v1h-4zM465 128h5v1h-5zM507 128h3v1h-3zM122 129h4v1h-4zM346 129h4v1h-4zM395 129h4v1h-4zM426 129h3v1h-3zM466 129h5v1h-5zM506 129h4v1h-4zM122 130h4v1h-4zM346 130h4v1h-4zM395 130h5v1h-5zM426 130h3v1h-3zM467 130h4v1h-4zM506 130h4v1h-4zM123 131h3v1h-3zM346 131h3v1h-3zM396 131h5v1h-5zM425 131h4v1h-4zM468 131h4v1h-4zM506 131h3v1h-3zM123 132h3v1h-3zM346 132h3v1h-3zM397 132h5v1h-5zM425 132h4v1h-4zM468 132h5v1h-5zM505 132h4v1h-4zM123 133h4v1h-4zM345 133h4v1h-4zM398 133h5v1h-5zM425 133h3v1h-3zM469 133h5v1h-5zM505 133h4v1h-4zM123 134h4v1h-4zM345 134h4v1h-4zM399 134h4v1h-4zM424 134h4v1h-4zM470 134h4v1h-4zM505 134h3v1h-3zM124 135h3v1h-3zM345 135h3v1h-3zM400 135h4v1h-4zM424 135h4v1h-4zM471 135h4v1h-4zM504 135h4v1h-4zM124 136h3v1h-3zM344 136h4v1h-4zM400 136h5v1h-5zM424 136h3v1h-3zM471 136h5v1h-5zM504 136h4v1h-4zM124 137h4v1h-4zM344 137h4v1h-4zM401 137h6v1h-6zM424 137h3v1h-3zM472 137h5v1h-5zM504 137h3v1h-3zM124 138h4v1h-4zM343 138h4v1h-4zM402 138h7v1h-7zM423 138h4v1h-4zM473 138h4v1h-4zM503 138h4v1h-4zM125 139h3v1h-3zM288 139h3v1h-3zM343 139h4v1h-4zM403 139h8v1h-8zM423 139h4v1h-4zM474 139h4v1h-4zM503 139h4v1h-4zM125 140h3v1h-3zM287 140h5v1h-5zM343 140h3v1h-3zM405 140h8v1h-8zM423 140h3v1h-3zM474 140h5v1h-5zM503 140h3v1h-3zM125 141h4v1h-4zM286 141h6v1h-6zM342 141h4v1h-4zM407 141h8v1h-8zM422 141h4v1h-4zM475 141h5v1h-5zM502 141h4v1h-4zM125 142h4v1h-4zM192 142h3v1h-3zM286 142h7v1h-7zM342 142h4v1h-4zM409 142h8v1h-8zM422 142h4v1h-4zM476 142h4v1h-4zM502 142h4v1h-4zM126 143h3v1h-3zM192 143h3v1h-3zM285 143h8v1h-8zM341 143h4v1h-4zM411 143h8v1h-8zM422 143h3v1h-3zM477 143h4v1h-4zM502 143h3v1h-3zM126 144h3v1h-3zM192 144h3v1h-3zM284 144h5v1h-5zM290 144h4v1h-4zM341 144h4v1h-4zM413 144h8v1h-8zM422 144h3v1h-3zM477 144h6v1h-6zM501 144h4v1h-4zM126 145h3v1h-3zM191 145h5v1h-5zM283 145h5v1h-5zM290 145h4v1h-4zM340 145h4v1h-4zM415 145h10v1h-10zM478 145h7v1h-7zM501 145h4v1h-4zM126 146h4v1h-4zM191 146h5v1h-5zM282 146h5v1h-5zM291 146h4v1h-4zM340 146h4v1h-4zM417 146h8v1h-8zM479 146h8v1h-8zM500 146h4v1h-4zM126 147h4v1h-4zM191 147h5v1h-5zM282 147h4v1h-4zM291 147h4v1h-4zM340 147h3v1h-3zM419 147h5v1h-5zM481 147h8v1h-8zM500 147h4v1h-4zM127 148h3v1h-3zM191 148h5v1h-5zM281 148h4v1h-4zM292 148h4v1h-4zM339 148h4v1h-4zM421 148h3v1h-3zM483 148h8v1h-8zM500 148h3v1h-3zM127 149h3v1h-3zM191 149h5v1h-5zM280 149h5v1h-5zM292 149h4v1h-4zM339 149h4v1h-4zM485 149h8v1h-8zM499 149h4v1h-4zM127 150h4v1h-4zM191 150h5v1h-5zM279 150h5v1h-5zM293 150h4v1h-4zM338 150h4v1h-4zM487 150h8v1h-8zM499 150h4v1h-4zM127 151h4v1h-4zM190 151h7v1h-7zM278 151h5v1h-5zM293 151h5v1h-5zM338 151h4v1h-4zM489 151h8v1h-8zM499 151h3v1h-3zM128 152h3v1h-3zM190 152h7v1h-7zM278 152h4v1h-4zM294 152h4v1h-4zM338 152h3v1h-3zM491 152h11v1h-11zM128 153h3v1h-3zM190 153h3v1h-3zM194 153h3v1h-3zM277 153h4v1h-4zM295 153h4v1h-4zM337 153h4v1h-4zM493 153h9v1h-9zM128 154h4v1h-4zM190 154h3v1h-3zM194 154h3v1h-3zM276 154h5v1h-5zM295 154h4v1h-4zM337 154h4v1h-4zM495 154h6v1h-6zM128 155h4v1h-4zM190 155h3v1h-3zM194 155h3v1h-3zM275 155h5v1h-5zM296 155h4v1h-4zM336 155h4v1h-4zM497 155h4v1h-4zM129 156h3v1h-3zM189 156h4v1h-4zM194 156h3v1h-3zM275 156h4v1h-4zM296 156h4v1h-4zM336 156h4v1h-4zM129 157h3v1h-3zM189 157h4v1h-4zM194 157h4v1h-4zM274 157h4v1h-4zM297 157h4v1h-4zM335 157h4v1h-4zM129 158h4v1h-4zM189 158h3v1h-3zM194 158h4v1h-4zM273 158h5v1h-5zM297 158h4v1h-4zM335 158h4v1h-4zM129 159h4v1h-4zM189 159h3v1h-3zM195 159h3v1h-3zM272 159h5v1h-5zM298 159h4v1h-4zM335 159h3v1h-3zM130 160h3v1h-3zM189 160h3v1h-3zM195 160h3v1h-3zM271 160h5v1h-5zM298 160h4v1h-4zM334 160h4v1h-4zM130 161h3v1h-3zM188 161h4v1h-4zM195 161h3v1h-3zM271 161h4v1h-4zM299 161h4v1h-4zM334 161h4v1h-4zM130 162h3v1h-3zM188 162h4v1h-4zM195 162h3v1h-3zM270 162h4v1h-4zM299 162h4v1h-4zM333 162h4v1h-4zM130 163h4v1h-4zM188 163h3v1h-3zM195 163h4v1h-4zM269 163h5v1h-5zM300 163h4v1h-4zM333 163h4v1h-4zM130 164h4v1h-4zM188 164h3v1h-3zM195 164h4v1h-4zM269 164h4v1h-4zM300 164h5v1h-5zM333 164h3v1h-3zM131 165h3v1h-3zM188 165h3v1h-3zM196 165h3v1h-3zM268 165h4v1h-4zM301 165h4v1h-4zM332 165h4v1h-4zM131 166h3v1h-3zM188 166h3v1h-3zM196 166h3v1h-3zM268 166h4v1h-4zM302 166h4v1h-4zM332 166h4v1h-4zM131 167h4v1h-4zM187 167h4v1h-4zM196 167h3v1h-3zM267 167h4v1h-4zM302 167h4v1h-4zM331 167h4v1h-4zM131 168h4v1h-4zM187 168h4v1h-4zM196 168h3v1h-3zM267 168h4v1h-4zM303 168h4v1h-4zM331 168h4v1h-4zM132 169h3v1h-3zM187 169h3v1h-3zM196 169h4v1h-4zM266 169h4v1h-4zM303 169h4v1h-4zM331 169h3v1h-3zM132 170h3v1h-3zM187 170h3v1h-3zM196 170h4v1h-4zM266 170h4v1h-4zM304 170h4v1h-4zM330 170h4v1h-4zM132 171h4v1h-4zM187 171h3v1h-3zM197 171h3v1h-3zM265 171h4v1h-4zM304 171h4v1h-4zM330 171h4v1h-4zM132 172h4v1h-4zM186 172h4v1h-4zM197 172h3v1h-3zM265 172h4v1h-4zM305 172h4v1h-4zM329 172h4v1h-4zM133 173h3v1h-3zM186 173h4v1h-4zM197 173h3v1h-3zM264 173h4v1h-4zM305 173h4v1h-4zM329 173h4v1h-4zM133 174h3v1h-3zM186 174h3v1h-3zM197 174h3v1h-3zM264 174h4v1h-4zM306 174h5v1h-5zM328 174h4v1h-4zM133 175h4v1h-4zM186 175h3v1h-3zM197 175h4v1h-4zM264 175h3v1h-3zM306 175h8v1h-8zM328 175h4v1h-4zM133 176h4v1h-4zM186 176h3v1h-3zM197 176h4v1h-4zM263 176h4v1h-4zM307 176h10v1h-10zM328 176h3v1h-3zM134 177h3v1h-3zM186 177h3v1h-3zM198 177h3v1h-3zM263 177h4v1h-4zM309 177h12v1h-12zM327 177h4v1h-4zM134 178h3v1h-3zM185 178h4v1h-4zM198 178h3v1h-3zM262 178h4v1h-4zM312 178h12v1h-12zM327 178h4v1h-4zM134 179h4v1h-4zM185 179h4v1h-4zM198 179h3v1h-3zM262 179h4v1h-4zM315 179h15v1h-15zM134 180h4v1h-4zM185 180h3v1h-3zM198 180h3v1h-3zM261 180h4v1h-4zM319 180h11v1h-11zM135 181h3v1h-3zM185 181h3v1h-3zM198 181h4v1h-4zM261 181h4v1h-4zM322 181h7v1h-7zM135 182h3v1h-3zM185 182h3v1h-3zM198 182h4v1h-4zM260 182h4v1h-4zM325 182h4v1h-4zM135 183h4v1h-4zM184 183h4v1h-4zM199 183h3v1h-3zM260 183h4v1h-4zM135 184h4v1h-4zM184 184h4v1h-4zM199 184h3v1h-3zM259 184h4v1h-4zM136 185h3v1h-3zM184 185h3v1h-3zM199 185h3v1h-3zM259 185h4v1h-4zM136 186h4v1h-4zM184 186h3v1h-3zM199 186h3v1h-3zM259 186h3v1h-3zM136 187h4v1h-4zM184 187h3v1h-3zM199 187h4v1h-4zM258 187h4v1h-4zM137 188h3v1h-3zM184 188h3v1h-3zM199 188h4v1h-4zM258 188h4v1h-4zM137 189h3v1h-3zM183 189h4v1h-4zM200 189h3v1h-3zM257 189h4v1h-4zM137 190h4v1h-4zM183 190h4v1h-4zM200 190h3v1h-3zM257 190h4v1h-4zM137 191h4v1h-4zM183 191h3v1h-3zM200 191h3v1h-3zM256 191h4v1h-4zM138 192h3v1h-3zM183 192h3v1h-3zM200 192h3v1h-3zM256 192h4v1h-4zM138 193h4v1h-4zM183 193h3v1h-3zM200 193h4v1h-4zM255 193h4v1h-4zM138 194h4v1h-4zM182 194h4v1h-4zM200 194h4v1h-4zM255 194h4v1h-4zM139 195h3v1h-3zM182 195h4v1h-4zM201 195h3v1h-3zM255 195h3v1h-3zM139 196h4v1h-4zM182 196h3v1h-3zM201 196h3v1h-3zM254 196h4v1h-4zM139 197h4v1h-4zM182 197h3v1h-3zM201 197h3v1h-3zM254 197h4v1h-4zM140 198h3v1h-3zM182 198h3v1h-3zM201 198h3v1h-3zM253 198h4v1h-4zM140 199h3v1h-3zM181 199h4v1h-4zM201 199h4v1h-4zM253 199h4v1h-4zM140 200h4v1h-4zM181 200h4v1h-4zM201 200h4v1h-4zM252 200h4v1h-4zM140 201h4v1h-4zM181 201h3v1h-3zM202 201h3v1h-3zM252 201h4v1h-4zM141 202h3v1h-3zM181 202h3v1h-3zM202 202h3v1h-3zM251 202h4v1h-4zM141 203h4v1h-4zM181 203h3v1h-3zM202 203h3v1h-3zM251 203h4v1h-4zM141 204h4v1h-4zM181 204h3v1h-3zM202 204h3v1h-3zM250 204h4v1h-4zM142 205h3v1h-3zM180 205h4v1h-4zM202 205h4v1h-4zM250 205h4v1h-4zM142 206h4v1h-4zM180 206h4v1h-4zM202 206h4v1h-4zM249 206h4v1h-4zM142 207h4v1h-4zM180 207h3v1h-3zM203 207h3v1h-3zM249 207h4v1h-4zM143 208h3v1h-3zM180 208h3v1h-3zM203 208h3v1h-3zM248 208h4v1h-4zM143 209h3v1h-3zM180 209h3v1h-3zM203 209h3v1h-3zM248 209h4v1h-4zM143 210h4v1h-4zM179 210h4v1h-4zM203 210h3v1h-3zM247 210h4v1h-4zM143 211h4v1h-4zM179 211h4v1h-4zM203 211h4v1h-4zM247 211h4v1h-4zM144 212h3v1h-3zM179 212h3v1h-3zM203 212h4v1h-4zM246 212h4v1h-4zM144 213h4v1h-4zM179 213h3v1h-3zM204 213h3v1h-3zM246 213h4v1h-4zM144 214h4v1h-4zM179 214h3v1h-3zM204 214h3v1h-3zM245 214h4v1h-4zM145 215h3v1h-3zM179 215h3v1h-3zM204 215h3v1h-3zM245 215h4v1h-4zM145 216h4v1h-4zM178 216h4v1h-4zM204 216h3v1h-3zM244 216h4v1h-4zM145 217h4v1h-4zM178 217h4v1h-4zM204 217h4v1h-4zM244 217h4v1h-4zM146 218h3v1h-3zM178 218h3v1h-3zM204 218h4v1h-4zM243 218h4v1h-4zM146 219h3v1h-3zM178 219h3v1h-3zM205 219h3v1h-3zM243 219h4v1h-4zM146 220h4v1h-4zM178 220h3v1h-3zM205 220h3v1h-3zM242 220h4v1h-4zM146 221h4v1h-4zM177 221h4v1h-4zM205 221h3v1h-3zM242 221h4v1h-4zM147 222h3v1h-3zM177 222h4v1h-4zM205 222h3v1h-3zM241 222h4v1h-4zM147 223h4v1h-4zM177 223h3v1h-3zM205 223h4v1h-4zM241 223h4v1h-4zM147 224h4v1h-4zM177 224h3v1h-3zM205 224h4v1h-4zM240 224h4v1h-4zM148 225h3v1h-3zM177 225h3v1h-3zM206 225h3v1h-3zM240 225h4v1h-4zM148 226h4v1h-4zM177 226h3v1h-3zM206 226h3v1h-3zM239 226h4v1h-4zM148 227h4v1h-4zM176 227h4v1h-4zM206 227h3v1h-3zM239 227h4v1h-4zM149 228h3v1h-3zM176 228h4v1h-4zM206 228h3v1h-3zM238 228h4v1h-4zM149 229h3v1h-3zM176 229h3v1h-3zM206 229h4v1h-4zM238 229h4v1h-4zM149 230h4v1h-4zM176 230h3v1h-3zM206 230h4v1h-4zM237 230h4v1h-4zM149 231h4v1h-4zM176 231h3v1h-3zM207 231h3v1h-3zM237 231h4v1h-4zM150 232h3v1h-3zM175 232h4v1h-4zM207 232h3v1h-3zM236 232h4v1h-4zM150 233h4v1h-4zM175 233h4v1h-4zM207 233h3v1h-3zM236 233h4v1h-4zM150 234h4v1h-4zM175 234h3v1h-3zM207 234h3v1h-3zM235 234h4v1h-4zM151 235h3v1h-3zM175 235h3v1h-3zM207 235h4v1h-4zM235 235h4v1h-4zM151 236h4v1h-4zM175 236h3v1h-3zM207 236h4v1h-4zM234 236h4v1h-4zM151 237h4v1h-4zM174 237h4v1h-4zM208 237h3v1h-3zM234 237h4v1h-4zM152 238h3v1h-3zM174 238h4v1h-4zM208 238h3v1h-3zM233 238h4v1h-4zM152 239h3v1h-3zM174 239h3v1h-3zM208 239h3v1h-3zM233 239h4v1h-4zM152 240h4v1h-4zM174 240h3v1h-3zM208 240h3v1h-3zM232 240h4v1h-4zM152 241h4v1h-4zM174 241h3v1h-3zM208 241h4v1h-4zM232 241h4v1h-4zM153 242h3v1h-3zM174 242h3v1h-3zM208 242h4v1h-4zM231 242h4v1h-4zM153 243h4v1h-4zM173 243h4v1h-4zM209 243h3v1h-3zM230 243h5v1h-5zM153 244h13v1h-13zM173 244h4v1h-4zM209 244h3v1h-3zM229 244h5v1h-5zM154 245h22v1h-22zM209 245h3v1h-3zM228 245h5v1h-5zM154 246h22v1h-22zM209 246h3v1h-3zM227 246h5v1h-5zM164 247h12v1h-12zM209 247h4v1h-4zM226 247h5v1h-5zM209 248h4v1h-4zM225 248h5v1h-5zM210 249h3v1h-3zM224 249h5v1h-5zM210 250h3v1h-3zM223 250h5v1h-5zM210 251h3v1h-3zM222 251h5v1h-5zM210 252h3v1h-3zM221 252h5v1h-5zM210 253h4v1h-4zM221 253h4v1h-4zM210 254h4v1h-4zM220 254h4v1h-4zM211 255h3v1h-3zM219 255h5v1h-5zM211 256h3v1h-3zM218 256h5v1h-5zM211 257h3v1h-3zM217 257h5v1h-5zM211 258h3v1h-3zM216 258h5v1h-5zM211 259h9v1h-9zM211 260h8v1h-8zM212 261h6v1h-6zM212 262h5v1h-5zM212 263h4v1h-4zM212 264h3v1h-3z"/>
<path fill="none" stroke="#000" stroke-width="1" d="M90.5 20.5H548.5V422.5H90.5Z"/>
<path fill="none" stroke="#000" stroke-width="1" d="M558.5 20.5H770.5V150.5H558.5Z"/>
<path fill="rgb(200,0,0)" d="M562 32h21v1h-21z"/>
<path fill="rgb(200,0,0)" d="M570 30h3v3h-3z"/>
<path fill="#fff" d="M571 31h1v1h-1z"/>
<path fill="rgb(0,175,0)" d="M562 47h21v1h-21z"/>
<path fill="rgb(0,175,0)" d="M570 45h3v3h-3z"/>
<path fill="#fff" d="M571 46h1v1h-1z"/>
<path fill="rgb(0,0,200)" d="M562 62h21v1h-21z"/>
<path fill="rgb(0,0,200)" d="M570 60h3v3h-3z"/>
<path fill="#fff" d="M571 61h1v1h-1z"/>
<path fill="rgb(200,0,200)" d="M562 77h21v1h-21z"/>
<path fill="rgb(200,0,200)" d="M570 75h3v3h-3z"/>
<path fill="#fff" d="M571 76h1v1h-1z"/>
<path fill="rgb(250,125,125)" d="M562 92h21v1h-21z"/>
<path fill="rgb(250,125,125)" d="M570 90h3v3h-3z"/>
<path fill="#fff" d="M571 91h1v1h-1z"/>
<path fill="rgb(250,125,0)" d="M562 107h21v1h-21z"/>
<path fill="rgb(250,125,0)" d="M570 105h3v3h-3z"/>
<path fill="#fff" d="M571 106h1v1h-1z"/>
<path fill="rgb(200,125,125)" d="M562 122h21v1h-21z"/>
<path fill="rgb(200,125,125)" d="M570 120h3v3h-3z"/>
<path fill="#fff" d="M571 121h1v1h-1z"/>
<path fill="rgb(125,125,0)" d="M562 137h21v1h-21z"/>
<path fill="rgb(125,125,0)" d="M570 135h3v3h-3z"/>
<path fill="#fff" d="M571 136h1v1h-1z"/>
</g>
<g text-anchor="middle" fill="#000" stroke="#000" stroke-width="0.12">
<text class="s" x="24.5 30.5 36.5 42.5 48.5 54.5 60.5 66.5 72.5 78.5" y="24"><tspan class="d">200000</tspan>.<tspan class="d">000</tspan></text>
<text class="s" x="24.5 30.5 36.5 42.5 48.5 54.5 60.5 66.5 72.5 78.5" y="64"><tspan class="d">180000</tspan>.<tspan class="d">000</tspan></text>
<text class="s" x="24.5 30.5 36.5 42.5 48.5 54.5 60.5 66.5 72.5 78.5" y="104"><tspan class="d">160000</tspan>.<tspan class="d">000</tspan></text>
<text class="s" x="24.5 30.5 36.5 42.5 48.5 54.5 60.5 66.5 72.5 78.5" y="144"><tspan class="d">140000</tspan>.<tspan class="d">000</tspan></text>
<text class="s" x="24.5 30.5 36.5 42.5 48.5 54.5 60.5 66.5 72.5 78.5" y="184"><tspan class="d">120000</tspan>.<tspan class="d">000</tspan></text>
<text class="s" x="24.5 30.5 36.5 42.5 48.5 54.5 60.5 66.5 72.5 78.5" y="225"><tspan class="d">100000</tspan>.<tspan class="d">000</tspan></text>
<text class="s" x="30.5 36.5 42.5 48.5 54.5 60.5 66.5 72.5 78.5" y="265"><tspan class="d">80000</tspan>.<tspan class="d">000</tspan></text>
<text class="s" x="30.5 36.5 42.5 48.5 54.5 60.5 66.5 72.5 78.5" y="305"><tspan class="d">60000</tspan>.<tspan class="d">000</tspan></text>
<text class="s" x="30.5 36.5 42.5 48.5 54.5 60.5 66.5 72.5 78.5" y="345"><tspan class="d">40000</tspan>.<tspan class="d">000</tspan></text>
<text class="s" x="30.5 36.5 42.5 48.5 54.5 60.5 66.5 72.5 78.5" y="385"><tspan class="d">20000</tspan>.<tspan class="d">000</tspan></text>
<text class="s" x="54.5 60.5 66.5 72.5 78.5" y="426"><tspan class="d">0</tspan>.<tspan class="d">000</tspan></text>
<text class="s" x="95.5 101.5" y="439"><tspan class="d">00</tspan></text>
<text class="s" x="114.5 120.5" y="439"><tspan class="d">01</tspan></text>
<text class="s" x="133.5 139.5" y="439"><tspan class="d">02</tspan></text>
<text class="s" x="152.5 158.5" y="439"><tspan class="d">03</tspan></text>
<text class="s" x="171.5 177.5" y="439"><tspan class="d">04</tspan></text>
<text class="s" x="190.5 196.5" y="439"><tspan class="d">05</tspan></text>
<text class="s" x="210.5 216.5" y="439"><tspan class="d">06</tspan></text>
<text class="s" x="229.5 235.5" y="439"><tspan class="d">07</tspan></text>
<text class="s" x="248.5 254.5" y="439"><tspan class="d">08</tspan></text>
<text class="s" x="267.5 273.5" y="439"><tspan class="d">09</tspan></text>
<text class="s" x="286.5 292.5" y="439"><tspan class="d">10</tspan></text>
<text class="s" x="305.5 311.5" y="439"><tspan class="d">11</tspan></text>
<text class="s" x="324.5 330.5" y="439"><tspan class="d">12</tspan></text>
<text class="s" x="343.5 349.5" y="439"><tspan class="d">13</tspan></text>
<text class="s" x="362.5 368.5" y="439"><tspan class="d">14</tspan></text>
<text class="s" x="381.5 387.5" y="439"><tspan class="d">15</tspan></text>
<text class="s" x="400.5 406.5" y="439"><tspan class="d">16</tspan></text>
<text class="s" x="419.5 425.5" y="439"><tspan class="d">17</tspan></text>
<text class="s" x="439.5 445.5" y="439"><tspan class="d">18</tspan></text>
<text class="s" x="458.5 464.5" y="439"><tspan class="d">19</tspan></text>
<text class="s" x="477.5 483.5" y="439"><tspan class="d">20</tspan></text>
<text class="s" x="496.5 502.5" y="439"><tspan class="d">21</tspan></text>
<text class="s" x="515.5 521.5" y="439"><tspan class="d">22</tspan></text>
<text class="s" x="534.5 540.5" y="439"><tspan class="d">23</tspan></text>
<text class="s" x="588.5 594.5 600.5 606.5 612.5 618.5 624.5 630.5 636.5 642.5 648.5 654.5 660.5" y="37" fill="rgb(200,0,0)" stroke="rgb(200,0,0)">iqoq.erje.net</text>
<text class="s" x="588.5 594.5 600.5 606.5 612.5 618.5 624.5 630.5 636.5 642.5 648.5 654.5 660.5 666.5 672.5 678.5 684.5 690.5 696.5 702.5 708.5" y="52" fill="rgb(0,175,0)" stroke="rgb(0,175,0)">abo<tspan class="d">001</tspan>.ams.abavia.com</text>
<text class="s" x="588.5 594.5 600.5 606.5 612.5 618.5 624.5 630.5 636.5 642.5 648.5 654.5 660.5 666.5 672.5 678.5 684.5 690.5 696.5 702.5 708.5" y="67" fill="rgb(0,0,200)" stroke="rgb(0,0,200)">abo<tspan class="d">002</tspan>.ams.abavia.com</text>
<text class="s" x="588.5 594.5 600.5 606.5 612.5 618.5 624.5 630.5 636.5 642.5 648.5 654.5 660.5 666.5 672.5 678.5 684.5 690.5 696.5 702.5 708.5" y="82" fill="rgb(200,0,200)" stroke="rgb(200,0,200)">abo<tspan class="d">003</tspan>.ams.abavia.com</text>
<text class="s" x="588.5 594.5 600.5 606.5 612.5 618.5 624.5 630.5 636.5 642.5 648.5 654.5 660.5 666.5 672.5 678.5 684.5 690.5 696.5 702.5 708.5" y="97" fill="rgb(250,125,125)" stroke="rgb(250,125,125)">abo<tspan class="d">004</tspan>.ams.abavia.com</text>
<text class="s" x="588.5 594.5 600.5 606.5 612.5 618.5 624.5 630.5 636.5 642.5 648.5 654.5 660.5 666.5 672.5 678.5 684.5 690.5 696.5 702.5 708.5 714.5 720.5 726.5 732.5 738.5 744.5 750.5 756.5 762.5" y="112" fill="rgb(250,125,0)" stroke="rgb(250,125,0)">feeder<tspan class="d">2</tspan>.feed.ams<tspan class="d">11</tspan>.usenet.farm</text>
<text class="s" x="588.5 594.5 600.5 606.5 612.5 618.5 624.5 630.5 636.5 642.5 648.5 654.5 660.5 666.5 672.5 678.5" y="127" fill="rgb(200,125,125)" stroke="rgb(200,125,125)">feeder<tspan class="d">2</tspan>.ecngs.de</text>
<text class="s" x="588.5 594.5 600.5 606.5 612.5 618.5 624.5 630.5 636.5 642.5 648.5 654.5 660.5 666.5 672.5 678.5 684.5" y="142" fill="rgb(125,125,0)" stroke="rgb(125,125,0)">TOTAL (all feeds)</text>
<text class="b" x="77 84 91 98 105 112 119 126 133 140 147 154 161 168 175 182 189 196 203 210 217 224 231 238 245 252 259 266 273 280 287 294 301 308 315 322 329 336 343 350 357 364 371 378 385 392 399 406 413 420 427 434 441 448 455 462 469 476 483 490" y="456">Top 7 incoming feeds by volume (KB) per hour (20260318 2307)</text>
</g>
</svg>
</body></html>
